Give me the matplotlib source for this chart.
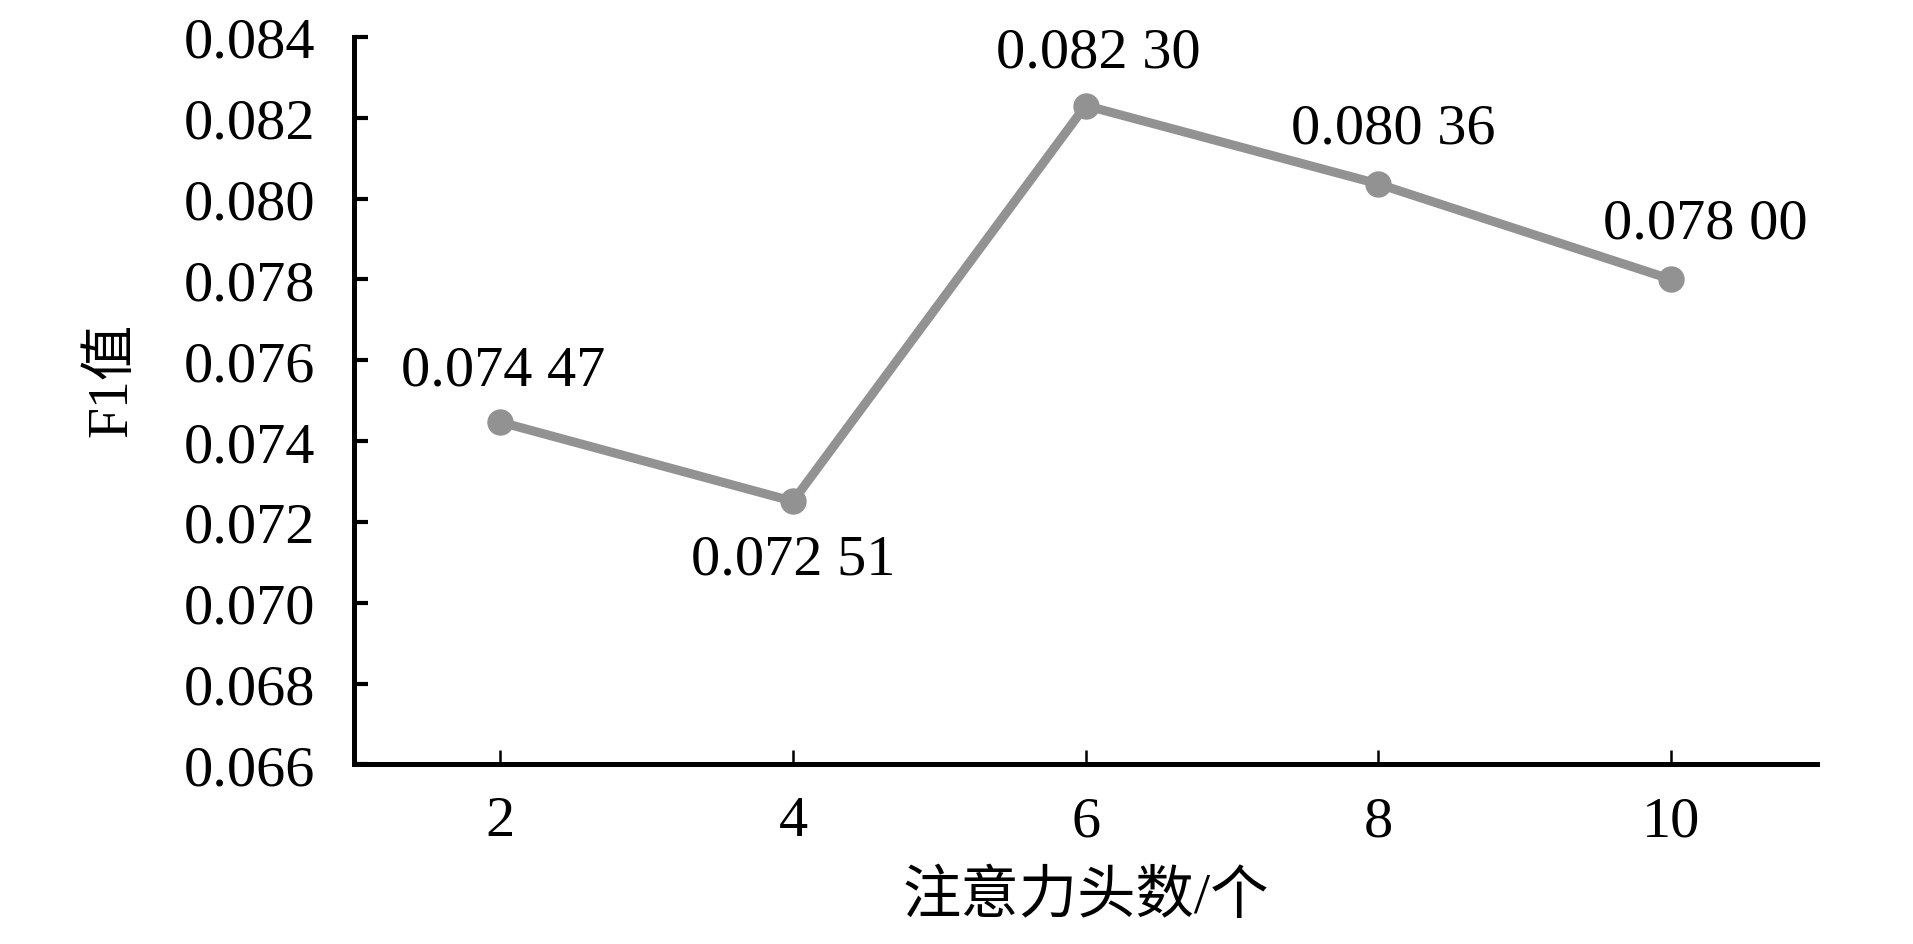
import matplotlib
matplotlib.use("Agg")
import matplotlib.pyplot as plt

# data
heads = [2, 4, 6, 8, 10]
f1 = [0.07447, 0.07251, 0.08230, 0.08036, 0.07800]
point_labels = ["0.074 47", "0.072 51", "0.082 30", "0.080 36", "0.078 00"]
y_ticks = [0.066, 0.068, 0.070, 0.072, 0.074, 0.076, 0.078, 0.080, 0.082, 0.084]
x_label = "注意力头数/个"
y_label = "F1值"

fonts = ["Liberation Serif", "Noto Sans CJK SC", "DejaVu Sans"]
plt.rcParams["font.family"] = fonts

fig = plt.figure(figsize=(19.13, 9.45), dpi=100)
ax = fig.add_axes([0.185, 0.19, 0.765, 0.77])

line_color = "#929292"
ax.plot(heads, f1, color=line_color, linewidth=6.5, marker="o", markersize=18,
        solid_capstyle="round", solid_joinstyle="round")

# label offsets in points (dx, dy)
offsets = [(2, 37), (0, -42), (9, 38), (11, 40), (25, 40)]
for i, txt in enumerate(point_labels):
    ax.annotate(txt, (heads[i], f1[i]), xytext=offsets[i], textcoords="offset points",
                ha="center", va="center", fontsize=42)

ax.set_xlim(1, 11)
ax.set_ylim(0.066, 0.084)
ax.set_xticks(heads)
ax.set_yticks(y_ticks)
ax.set_yticklabels(["%.3f" % v for v in y_ticks])

for side in ["top", "right"]:
    ax.spines[side].set_visible(False)
for side in ["left", "bottom"]:
    ax.spines[side].set_linewidth(3.6)

ax.tick_params(axis="y", direction="in", length=10, width=3, pad=28, labelsize=42)
ax.tick_params(axis="x", direction="in", length=10, width=1.8, pad=22, labelsize=42)

ax.set_xlabel(x_label, fontsize=42, labelpad=16)
ax.set_ylabel(y_label, fontsize=40)
ax.yaxis.set_label_coords(-0.147, 0.53)

fig.savefig("out.png", dpi=100)
